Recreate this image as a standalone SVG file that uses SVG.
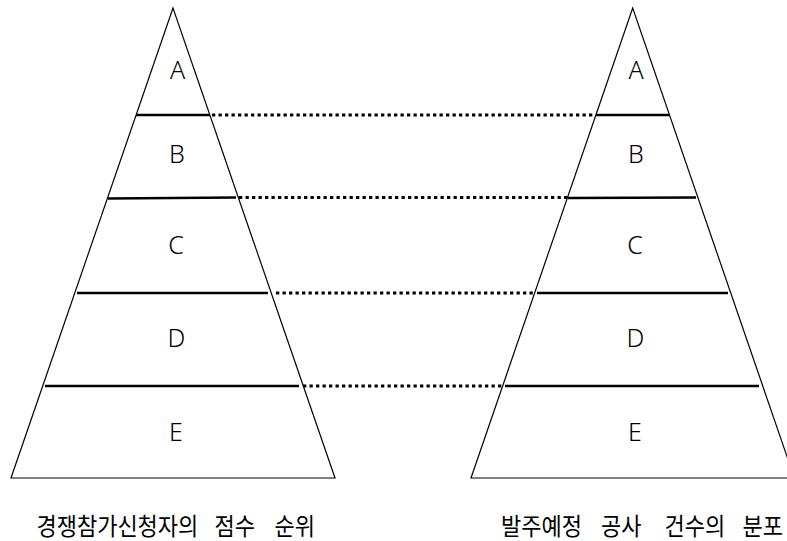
<svg xmlns="http://www.w3.org/2000/svg" width="787" height="541" viewBox="0 0 787 541">
<style>
.tri{fill:none;stroke:#000;stroke-width:1.2;stroke-linejoin:miter}
.lvl{stroke:#000;stroke-width:2.5;fill:none}
.dot{stroke:#000;stroke-width:3;fill:none;stroke-dasharray:3.3 3.2}
.lt{font-family:"Noto Sans","Liberation Sans",sans-serif;font-weight:300;font-size:25px;fill:#000;text-anchor:middle}
.cap{font-family:"Noto Sans CJK KR","Noto Sans",sans-serif;font-size:22px;fill:#000}
</style>
<rect width="787" height="541" fill="#fff"/>
<g id="left-pyramid">
<polygon class="tri" points="173,8 11,478 335,478"/>
<line class="lvl" x1="136" y1="115" x2="210" y2="115"/>
<line class="lvl" x1="108" y1="198.5" x2="236" y2="197.5"/>
<line class="lvl" x1="77" y1="293" x2="268" y2="293"/>
<line class="lvl" x1="45" y1="386" x2="299" y2="386"/>
<text class="lt" x="177.5" y="79">A</text>
<text class="lt" x="177" y="163">B</text>
<text class="lt" x="176" y="254">C</text>
<text class="lt" x="176.5" y="347">D</text>
<text class="lt" x="176" y="440.5">E</text>
<g transform="translate(0,535) scale(1,1.1)">
<text class="cap" y="0"><tspan x="36.5">경쟁참가신청자의</tspan><tspan x="214.5">점수</tspan><tspan x="274.5">순위</tspan></text>
</g>
</g>
<g id="right-pyramid">
<polygon class="tri" points="632.7,8 471,478 794.4,478"/>
<line class="lvl" x1="596" y1="115" x2="669" y2="115"/>
<line class="lvl" x1="568" y1="198" x2="696" y2="197.5"/>
<line class="lvl" x1="537" y1="293" x2="728" y2="293"/>
<line class="lvl" x1="505" y1="386" x2="759" y2="386"/>
<text class="lt" x="636" y="79">A</text>
<text class="lt" x="636" y="163">B</text>
<text class="lt" x="635" y="254">C</text>
<text class="lt" x="635.5" y="347">D</text>
<text class="lt" x="635" y="440.5">E</text>
<g transform="translate(0,535) scale(1,1.1)">
<text class="cap" y="0"><tspan x="501">발주예정</tspan><tspan x="601">공사</tspan><tspan x="664.5">건수의</tspan><tspan x="742.5">분포</tspan></text>
</g>
</g>
<g id="connectors">
<line class="dot" x1="212" y1="115" x2="595" y2="115"/>
<line class="dot" x1="239" y1="197.5" x2="567" y2="197.5"/>
<line class="dot" x1="276" y1="293" x2="534" y2="293"/>
<line class="dot" x1="303" y1="386" x2="502" y2="386"/>
</g>
</svg>
